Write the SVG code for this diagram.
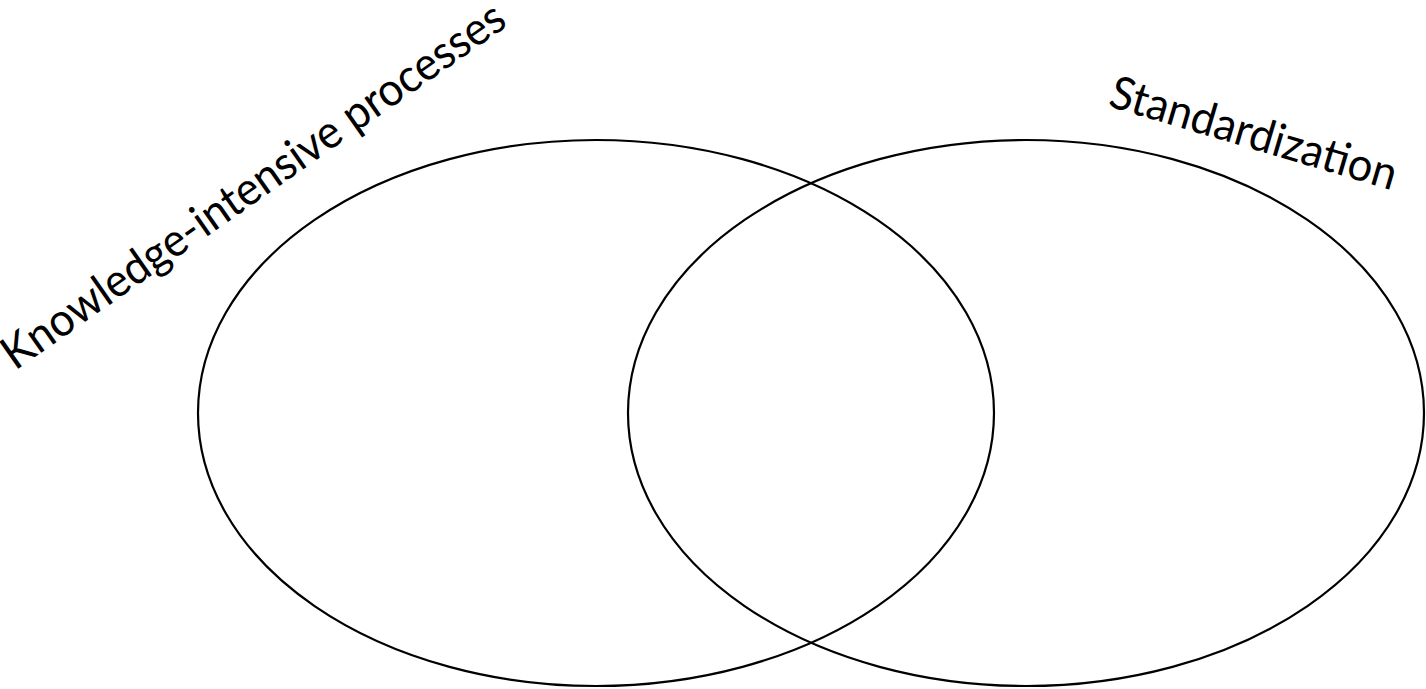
<svg xmlns="http://www.w3.org/2000/svg" width="1426" height="689" viewBox="0 0 1426 689">
<style>
.set{fill:none;stroke:#000;stroke-width:2.2}
.lbl{font-family:Lato,"Open Sans","Liberation Sans",sans-serif;font-size:46px;fill:#000}
</style>
<rect width="1426" height="689" fill="#fff"/>
<g id="set-knowledge">
<ellipse class="set" cx="596" cy="413" rx="398" ry="273"/>
<text class="lbl" transform="translate(15,371) rotate(-35)" textLength="603" lengthAdjust="spacingAndGlyphs">Knowledge-intensive processes</text>
</g>
<g id="set-standardization">
<ellipse class="set" cx="1026" cy="413" rx="398" ry="273"/>
<text class="lbl" transform="translate(1107,106) rotate(16.5)" textLength="297" lengthAdjust="spacingAndGlyphs">Standardization</text>
</g>
<g id="connectors"/>
</svg>
